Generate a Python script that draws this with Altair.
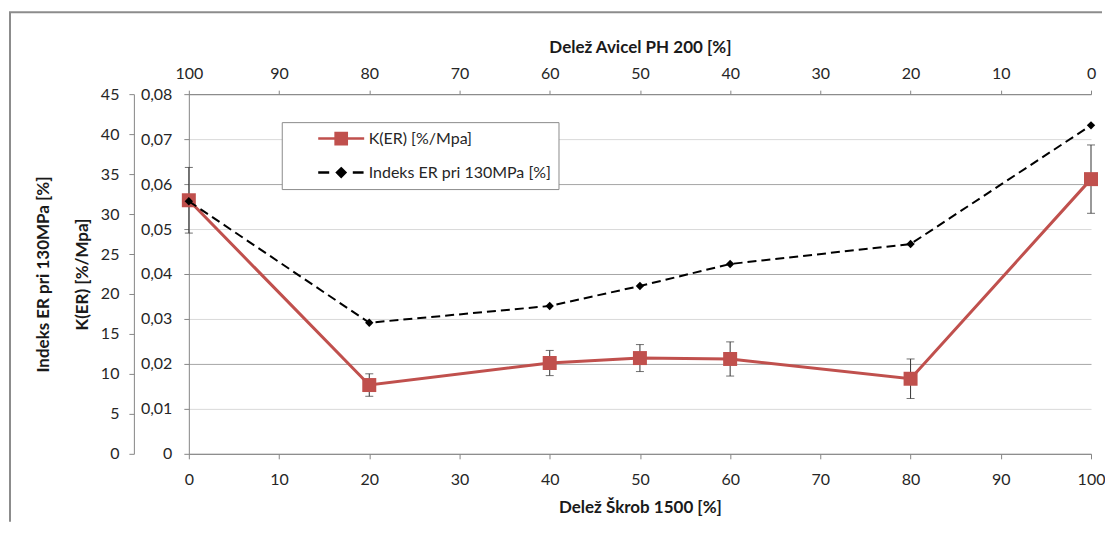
import altair as alt
import pandas as pd

# ---- data ----
share_skrob = [0, 20, 40, 50, 60, 80, 100]          # Delež Škrob 1500 [%]
k_er = [0.0564, 0.0153, 0.0202, 0.0213, 0.0211, 0.0167, 0.0611]   # K(ER) [%/Mpa]
k_er_err = [0.0073, 0.0025, 0.0028, 0.0030, 0.0038, 0.0044, 0.0076]
indeks_er = [31.6, 16.4, 18.5, 21.0, 23.75, 26.25, 41.1]          # Indeks ER pri 130MPa [%]

series_names = ["K(ER) [%/Mpa]", "Indeks ER pri 130MPa [%]"]
series_colors = ["#C0504D", "#000000"]
x_ticks = [0, 10, 20, 30, 40, 50, 60, 70, 80, 90, 100]
k_ticks = [0, 0.01, 0.02, 0.03, 0.04, 0.05, 0.06, 0.07, 0.08]
indeks_ticks = [0, 5, 10, 15, 20, 25, 30, 35, 40, 45]

df_k = pd.DataFrame({
    "x": share_skrob,
    "k": k_er,
    "lo": [v - e for v, e in zip(k_er, k_er_err)],
    "hi": [v + e for v, e in zip(k_er, k_er_err)],
    "series": series_names[0],
})
df_i = pd.DataFrame({"x": share_skrob, "ind": indeks_er, "series": series_names[1]})
df_legend = pd.DataFrame({"x": [0, 0], "k": [0.0, 0.0], "series": series_names})
df_one = pd.DataFrame({"a": [0]})

FONT = "Lato"
AX_GRAY = "#868686"
LBL = "#262626"
LBL_SIZE = 16
TTL_SIZE = 17

x_scale = alt.Scale(domain=[0, 100], nice=False, zero=False)
x_bottom_axis = alt.Axis(orient="bottom", values=x_ticks, title="Delež Škrob 1500 [%]",
                         grid=False, tickSize=5, labelPadding=13, titlePadding=12,
                         labelFlush=False)
x_top_axis = alt.Axis(orient="top", values=x_ticks, title="Delež Avicel PH 200 [%]",
                      grid=False, tickSize=4, labelPadding=9, titlePadding=9,
                      labelFlush=False,
                      labelExpr="'' + (100 - datum.value)")

k_scale = alt.Scale(domain=[0, 0.08], nice=False, zero=True)
k_axis = alt.Axis(orient="left", values=k_ticks, title="K(ER) [%/Mpa]",
                  labelExpr="datum.value == 0 ? '0' : replace(format(datum.value, '.2f'), '.', ',')",
                  grid=True,
                  gridColor={"condition": {"test": "round(datum.value*100) % 2 == 0", "value": "#a6a6a6"},
                             "value": "#d9d9d9"},
                  tickSize=5, labelPadding=12, labelFlush=False,
                  titleX=-106, titleY=180, titleBaseline="middle")
i_scale = alt.Scale(domain=[0, 45], nice=False, zero=True)
i_axis = alt.Axis(orient="left", values=indeks_ticks, title="Indeks ER pri 130MPa [%]",
                  grid=False, offset=55, tickSize=5, labelPadding=10, labelFlush=False,
                  titleX=-90, titleY=180, titleBaseline="middle")

# legend symbols: line + marker drawn as custom symbol paths
path_k = "M-2.875,0H2.875M-0.7,-0.7H0.7V0.7H-0.7Z"
path_i = "M-2.875,0H-1.5M1.45,0H2.8M0,-0.52L0.52,0L0,0.52L-0.52,0Z"
color_scale = alt.Scale(domain=series_names, range=series_colors)
shape_scale = alt.Scale(domain=series_names, range=[path_k, path_i])
legend = alt.Legend(
    title=None, orient="none", legendX=93, legendY=28,
    fillColor="white", strokeColor="#8c8c8c", padding=7,
    symbolOffset=43, labelOffset=18, rowPadding=13,
    labelFont=FONT, labelFontSize=LBL_SIZE, labelColor=LBL, labelLimit=400,
    symbolSize=256, symbolStrokeWidth=2.5, symbolOpacity=1,
)

xb = alt.X("x:Q", scale=x_scale, axis=x_bottom_axis)
xt = alt.X("x:Q", scale=x_scale, axis=x_top_axis)

# ---- K(ER) group (primary axis) ----
k_base = alt.Chart(df_k)
err_rule = k_base.mark_rule(color="#333333", strokeWidth=1).encode(
    x=xb, y=alt.Y("lo:Q", scale=k_scale, axis=k_axis), y2="hi:Q")
err_top = k_base.mark_tick(color="#333333", orient="horizontal", size=8, thickness=1).encode(
    x=xb, y=alt.Y("hi:Q", scale=k_scale, axis=k_axis))
err_bot = k_base.mark_tick(color="#333333", orient="horizontal", size=8, thickness=1).encode(
    x=xb, y=alt.Y("lo:Q", scale=k_scale, axis=k_axis))
k_line = k_base.mark_line(color=series_colors[0], strokeWidth=3).encode(
    x=xb, y=alt.Y("k:Q", scale=k_scale, axis=k_axis))
k_pts = k_base.mark_point(filled=True, shape="square", size=196, opacity=1,
                          color=series_colors[0]).encode(
    x=xb, y=alt.Y("k:Q", scale=k_scale, axis=k_axis))
legend_layer = alt.Chart(df_legend).mark_point(filled=True, opacity=0, size=10).encode(
    x=xb, y=alt.Y("k:Q", scale=k_scale, axis=k_axis),
    color=alt.Color("series:N", scale=color_scale, legend=legend),
    stroke=alt.Stroke("series:N", scale=color_scale, legend=legend),
    shape=alt.Shape("series:N", scale=shape_scale, legend=legend))

# chart-area frame (left and top edge, as in the reference)
frame_left = alt.Chart(df_one).mark_rule(color="#8c8c8c", strokeWidth=2).encode(
    x=alt.value(-179), y=alt.value(-82), y2=alt.value(428))
frame_top = alt.Chart(df_one).mark_rule(color="#8c8c8c", strokeWidth=2).encode(
    x=alt.value(-180), x2=alt.value(914), y=alt.value(-82))

k_group = alt.layer(frame_left, frame_top, err_rule, err_top, err_bot, k_line, k_pts, legend_layer)

# ---- Indeks ER group (secondary axis) ----
i_base = alt.Chart(df_i)
i_line = i_base.mark_line(color=series_colors[1], strokeWidth=2, strokeDash=[9, 5]).encode(
    x=xt, y=alt.Y("ind:Q", scale=i_scale, axis=i_axis))
i_pts = i_base.mark_point(filled=True, shape="diamond", size=70, opacity=1,
                          color=series_colors[1]).encode(
    x=xt, y=alt.Y("ind:Q", scale=i_scale, axis=i_axis))
i_group = alt.layer(i_line, i_pts)

chart = (
    alt.layer(k_group, i_group)
    .resolve_scale(y="independent")
    .resolve_axis(x="independent", y="independent")
    .properties(width=903, height=360, padding={"left": 0, "top": 3, "right": 0, "bottom": 0})
    .configure_view(stroke=None)
    .configure_axis(
        labelFont=FONT, labelFontSize=LBL_SIZE, labelColor=LBL,
        titleFont=FONT, titleFontSize=TTL_SIZE, titleFontWeight="bold", titleColor="#1a1a1a",
        domainColor=AX_GRAY, tickColor=AX_GRAY, domainWidth=1, tickWidth=1,
    )
)

chart.save("out.html", embed_options={"renderer": "svg", "actions": False})
